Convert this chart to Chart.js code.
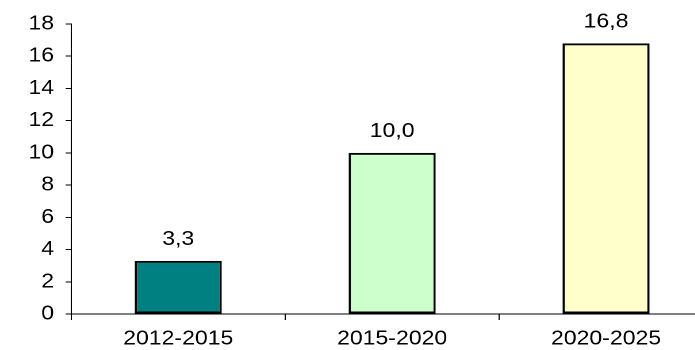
<!DOCTYPE html>
<html><head><meta charset="utf-8">
<script src="https://cdn.jsdelivr.net/npm/chart.js@4.4.0/dist/chart.umd.min.js"></script>
<style>
html,body{margin:0;padding:0;background:#fff;overflow:hidden;width:695px;height:350px}
#wrap{position:absolute;left:0;top:0;width:620px;height:350px;transform:scaleX(1.15);transform-origin:0 0}
</style></head><body>
<div id="wrap"><canvas id="c" width="620" height="350"></canvas></div>
<script>
const categories = ['2012-2015', '2015-2020', '2020-2025'];
const values = [3.3, 10.0, 16.8];
const barColors = ['#008080', '#CCFFCC', '#FFFFCC'];
const yMin = 0, yMax = 18, yStep = 2;

const FONT = '"Liberation Sans", Arial, sans-serif';
const FONT_SIZE = 20;

const valueLabels = {
  id: 'valueLabels',
  afterDatasetsDraw(chart) {
    const ctx = chart.ctx;
    const meta = chart.getDatasetMeta(0);
    ctx.save();
    ctx.font = FONT_SIZE + 'px ' + FONT;
    ctx.fillStyle = '#000';
    ctx.textAlign = 'center';
    ctx.textBaseline = 'alphabetic';
    meta.data.forEach((bar, i) => {
      ctx.fillText(values[i].toFixed(1).replace('.', ','), bar.x, bar.y - 16);
    });
    ctx.restore();
  }
};

new Chart(document.getElementById('c'), {
  type: 'bar',
  data: {
    labels: categories,
    datasets: [{
      data: values,
      backgroundColor: barColors,
      borderColor: '#000',
      borderWidth: 2,
      borderSkipped: false,
      categoryPercentage: 1,
      barPercentage: 0.407
    }]
  },
  options: {
    responsive: false,
    devicePixelRatio: 2,
    animation: false,
    layout: { padding: { top: 24, left: 0, right: 0, bottom: 0 } },
    plugins: { legend: { display: false }, tooltip: { enabled: false } },
    scales: {
      x: {
        offset: true,
        grid: { display: true, drawOnChartArea: false, drawTicks: true, tickLength: 6, color: '#000', offset: true },
        border: { display: true, color: '#000', width: 1 },
        ticks: { color: '#000', font: { family: FONT, size: FONT_SIZE }, padding: 7, maxRotation: 0 },
        afterFit(scale) { scale.height = 36; }
      },
      y: {
        min: yMin, max: yMax,
        grid: { display: true, drawOnChartArea: false, drawTicks: true, tickLength: 5, color: '#000' },
        border: { display: true, color: '#000', width: 1 },
        ticks: { stepSize: yStep, color: '#000', font: { family: FONT, size: FONT_SIZE }, padding: 10 },
        afterFit(scale) { scale.width = 62; }
      }
    }
  },
  plugins: [valueLabels]
});
</script>
</body></html>
